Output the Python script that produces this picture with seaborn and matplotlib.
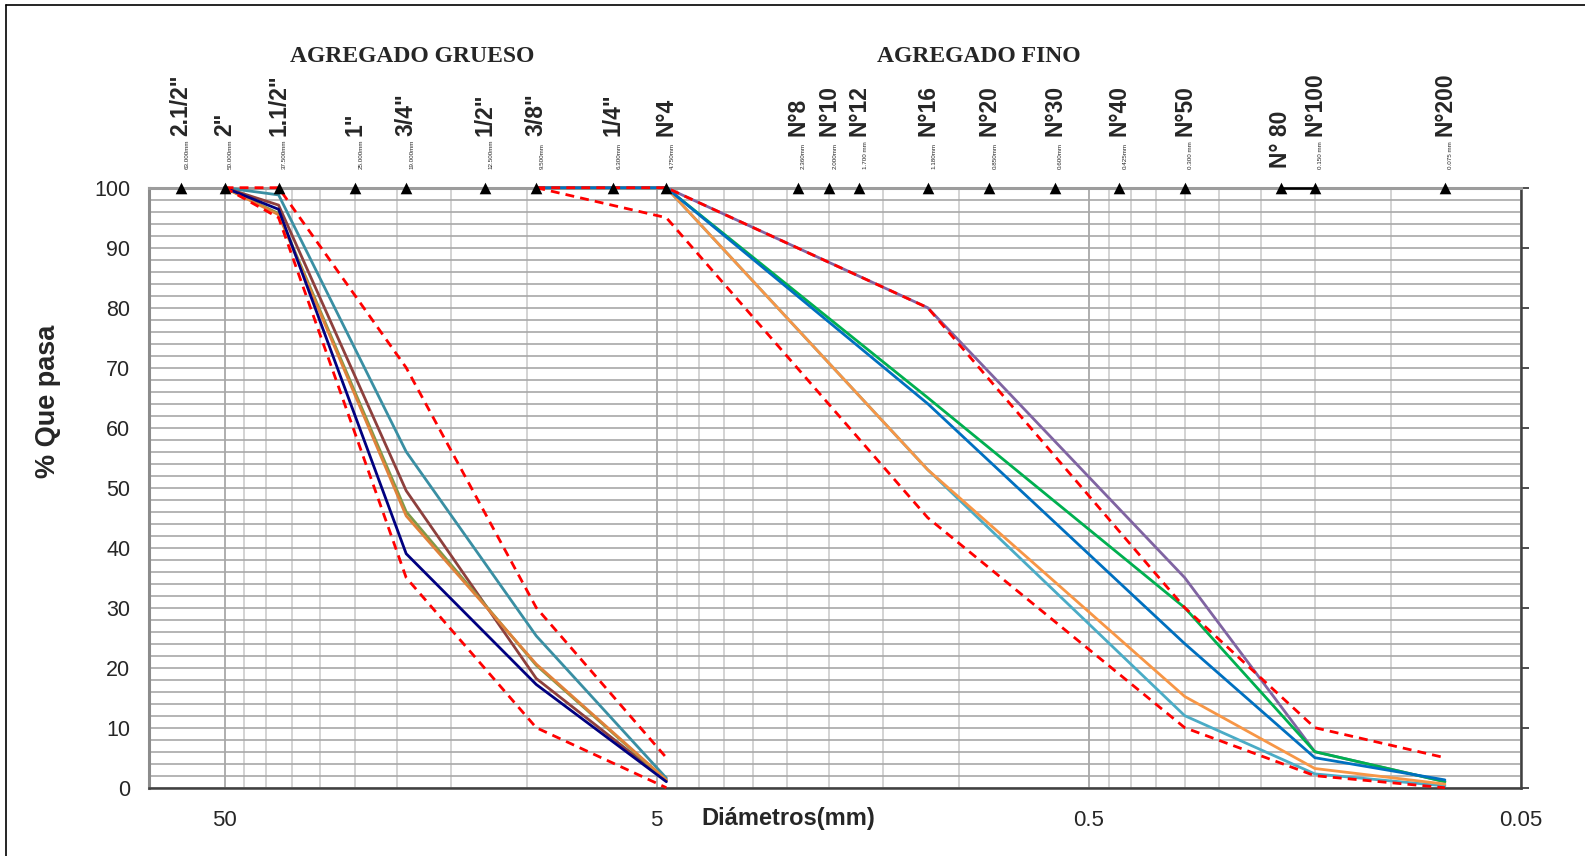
import numpy as np
import pandas as pd
import matplotlib
matplotlib.use("Agg")
import matplotlib.pyplot as plt
import matplotlib.transforms as mtransforms
from matplotlib.lines import Line2D
from matplotlib.ticker import FixedLocator, FixedFormatter, NullFormatter
import seaborn as sns

# ---------------- data ----------------
sieve_labels = ['2.1/2"', '2"', '1.1/2"', '1"', '3/4"', '1/2"', '3/8"', '1/4"', 'N°4',
                'N°8', 'N°10', 'N°12', 'N°16', 'N°20', 'N°30', 'N°40', 'N°50', 'N° 80',
                'N°100', 'N°200']
sieve_mm = [63.0, 50.0, 37.5, 25.0, 19.0, 12.5, 9.5, 6.3, 4.75,
            2.36, 2.0, 1.7, 1.18, 0.85, 0.6, 0.425, 0.3, 0.18, 0.15, 0.075]
sieve_mm_text = ['63.000mm', '50.000mm', '37.500mm', '25.000mm', '19.000mm', '12.500mm',
                 '9.500mm', '6.300mm', '4.750mm', '2.360mm', '2.000mm', '1.700 mm',
                 '1.180mm', '0.850mm', '0.600mm', '0.425mm', '0.300 mm', '',
                 '0.150 mm', '0.075 mm']

# coarse aggregate
coarse_size = [50.0, 37.5, 19.0, 9.5, 4.75]
coarse_upper = [100, 100, 70, 30, 5]
coarse_lower = [100, 95, 35, 10, 0]
coarse_navy = [100, 96.4, 39.0, 17.2, 1.0]
coarse_brown = [100, 97.1, 49.5, 18.2, 1.2]
coarse_teal = [100, 98.8, 56.0, 25.3, 1.6]
coarse_olive = [100, 95.7, 46.0, 20.4, 1.2]
coarse_orange = [100, 95.5, 45.3, 20.6, 1.3]

# fine aggregate
fine_size = [9.5, 4.75, 1.18, 0.3, 0.15, 0.075]
fine_upper = [100, 100, 80, 30, 10, 5]
fine_lower = [100, 95, 45, 10, 2, 0]
fine_purple = [100, 100, 80, 35, 6.0, 1.0]
fine_green = [100, 100, 65, 30, 6.0, 1.0]
fine_blue = [100, 100, 64, 24, 5.0, 1.3]
fine_orange = [100, 100, 53, 15.2, 3.2, 0.6]
fine_cyan = [100, 100, 53, 12, 2.3, 0.3]

n80_size = [0.18, 0.15]
n80_val = [100, 100]

x_tick_vals = [50, 5, 0.5, 0.05]
x_tick_labels = ["50", "5", "0.5", "0.05"]
y_tick_vals = list(range(0, 101, 10))

# ---------------- style ----------------
sns.set_style("white")
plt.rcParams['font.family'] = ['Liberation Sans', 'DejaVu Sans']

fig = plt.figure(figsize=(15.85, 8.56), dpi=100)
W, H = 1585.0, 856.0
ax_left, ax_right, ax_top, ax_bot = 148.5, 1521.0, 187.7, 787.7
ax = fig.add_axes([ax_left / W, 1 - ax_bot / H, (ax_right - ax_left) / W, (ax_bot - ax_top) / H])

# ---------------- lines ----------------
def draw(xs, ys, color, dashed=False, lw=2.0, z=3):
    df = pd.DataFrame({'d': xs, 'p': ys})
    sns.lineplot(data=df, x='d', y='p', ax=ax, color=color, lw=lw, sort=False,
                 estimator=None, legend=False, zorder=z)
    line = ax.lines[-1]
    line.set_clip_on(False)
    if dashed:
        line.set_linestyle((0, (3.2, 2.2)))
    return line

draw(coarse_size, coarse_teal, '#3a8fa3')
draw(coarse_size, coarse_brown, '#8e403d')
draw(coarse_size, coarse_olive, '#7f9a48')
draw(coarse_size, coarse_orange, '#e0823a')
draw(coarse_size, coarse_navy, '#000080')

draw(fine_size, fine_purple, '#8064a2')
draw(fine_size, fine_green, '#00b050')
draw(fine_size, fine_cyan, '#4bacc6')
draw(fine_size, fine_orange, '#f79646')
draw(fine_size, fine_blue, '#0070c0')

draw(coarse_size, coarse_upper, '#ff0000', dashed=True, lw=2.0, z=4)
draw(coarse_size, coarse_lower, '#ff0000', dashed=True, lw=2.0, z=4)
draw(fine_size, fine_upper, '#ff0000', dashed=True, lw=2.0, z=4)
draw(fine_size, fine_lower, '#ff0000', dashed=True, lw=2.0, z=4)

draw(n80_size, n80_val, '#000000', lw=1.8, z=5)

# sieve markers
mk = pd.DataFrame({'d': sieve_mm, 'p': [100] * len(sieve_mm)})
sns.scatterplot(data=mk, x='d', y='p', ax=ax, marker='^', color='black', s=70,
                edgecolor='black', linewidth=0, zorder=6, clip_on=False, legend=False)

ax.set_xlabel('')
ax.set_ylabel('')

# ---------------- axes ----------------
ax.set_xscale('log')
ax.set_xlim(75, 0.05)
ax.set_ylim(0, 100)

minor_x = [k * 5 * 10.0 ** n for n in (-2, -1, 0) for k in range(2, 10)]
ax.xaxis.set_major_locator(FixedLocator(x_tick_vals))
ax.xaxis.set_major_formatter(FixedFormatter(x_tick_labels))
ax.xaxis.set_minor_locator(FixedLocator(minor_x))
ax.xaxis.set_minor_formatter(NullFormatter())
ax.yaxis.set_major_locator(FixedLocator(y_tick_vals))
ax.yaxis.set_minor_locator(FixedLocator(list(range(2, 100, 2))))

ax.grid(which='major', axis='x', color='#a8a8a8', lw=1.3, zorder=0)
ax.grid(which='minor', axis='x', color='#d0d0d0', lw=1.3, zorder=0)
ax.grid(which='both', axis='y', color='#a8a8a8', lw=1.2, zorder=0)
ax.set_axisbelow(True)

ax.tick_params(axis='x', which='major', direction='out', length=5, width=1.2,
               color='#404040', labelsize=16, pad=11)
ax.tick_params(axis='x', which='minor', length=0)
ax.tick_params(axis='y', which='major', left=False, right=True, labelleft=True,
               direction='out', length=6, width=1.3, color='#404040', labelsize=15.5, pad=7)
ax.tick_params(axis='y', which='minor', length=0, left=False, right=False)

for side, col, lw in [('left', '#8c8c8c', 2.2), ('top', '#9c9c9c', 2.2),
                      ('bottom', '#404040', 1.8), ('right', '#404040', 1.8)]:
    ax.spines[side].set_color(col)
    ax.spines[side].set_linewidth(lw)
    ax.spines[side].set_visible(True)

# sieve labels
tr = ax.get_xaxis_transform()
tr_mm = mtransforms.offset_copy(tr, fig=fig, x=6, y=0, units='dots')
span = ax_bot - ax_top
for lab, v, mm in zip(sieve_labels, sieve_mm, sieve_mm_text):
    if mm:
        ax.text(v, (ax_bot - 136) / span, lab, transform=tr, rotation=90,
                ha='center', va='bottom', fontsize=16.5, fontweight='bold', clip_on=False)
        ax.text(v, (ax_bot - 169) / span, mm, transform=tr_mm, rotation=90,
                ha='center', va='bottom', fontsize=4.5, clip_on=False)
    else:
        ax.text(v, (ax_bot - 168) / span, lab, transform=tr, rotation=90,
                ha='center', va='bottom', fontsize=16.5, fontweight='bold', clip_on=False)

# titles
fig.text(412 / W, 1 - 57 / H, 'AGREGADO GRUESO', ha='center', va='center',
         fontsize=17, fontweight='bold', family=['Liberation Serif', 'DejaVu Serif'])
fig.text(979 / W, 1 - 57 / H, 'AGREGADO FINO', ha='center', va='center',
         fontsize=17, fontweight='bold', family=['Liberation Serif', 'DejaVu Serif'])

fig.text(48.5 / W, 1 - 401 / H, '% Que pasa', rotation=90, ha='center', va='center',
         fontsize=19.5, fontweight='bold')
fig.text(788 / W, 1 - 819 / H, 'Diámetros(mm)', ha='center', va='center',
         fontsize=17, fontweight='bold')

# outer frame (left and top edges)
fig.add_artist(Line2D([6 / W, 6 / W], [0, 1 - 5 / H], transform=fig.transFigure,
                      color='black', lw=1.2))
fig.add_artist(Line2D([6 / W, 1], [1 - 5 / H, 1 - 5 / H], transform=fig.transFigure,
                      color='black', lw=1.2))

fig.savefig('out.png', dpi=100, facecolor='white')
